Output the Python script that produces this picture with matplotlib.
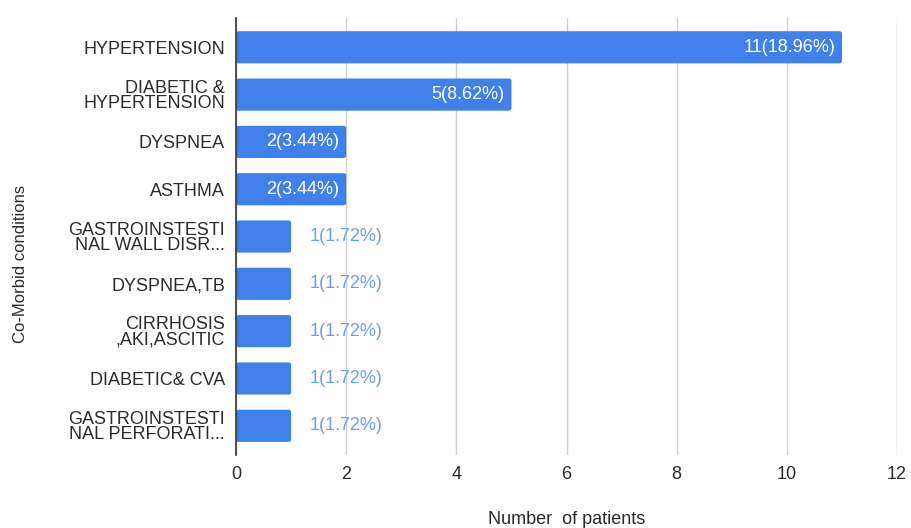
import matplotlib
matplotlib.use('Agg')
import matplotlib.pyplot as plt
from matplotlib.patches import FancyBboxPatch

# 데이터
conditions = [
    'HYPERTENSION',
    'DIABETIC &\nHYPERTENSION',
    'DYSPNEA',
    'ASTHMA',
    'GASTROINSTESTI\nNAL WALL DISR...',
    'DYSPNEA,TB',
    'CIRRHOSIS\n,AKI,ASCITIC',
    'DIABETIC& CVA',
    'GASTROINSTESTI\nNAL PERFORATI...',
]
patients = [11, 5, 2, 2, 1, 1, 1, 1, 1]
value_labels = ['11(18.96%)', '5(8.62%)', '2(3.44%)', '2(3.44%)',
                '1(1.72%)', '1(1.72%)', '1(1.72%)', '1(1.72%)', '1(1.72%)']
x_ticks = [0, 2, 4, 6, 8, 10, 12]

plt.rcParams['font.family'] = ['Liberation Sans', 'DejaVu Sans']

bar_color = '#3f80ea'
text_color = '#2b2b2b'

fig = plt.figure(figsize=(9.12, 5.28), dpi=100)
ax = fig.add_axes([0.2588, 0.138, 0.7248, 0.828])

y_pos = list(range(len(conditions)))
bars = ax.barh(y_pos, patients, height=0.68, color=bar_color, zorder=3)

# 막대 끝을 살짝 둥글게
for b in bars:
    b.set_visible(False)
    r = FancyBboxPatch((b.get_x(), b.get_y()), b.get_width(), b.get_height(),
                       boxstyle='round,pad=0,rounding_size=0.05',
                       mutation_aspect=1 / 0.55 * 0.1 * 5,
                       facecolor=bar_color, edgecolor='none', zorder=3)
    ax.add_patch(r)

for y, v, lab in zip(y_pos, patients, value_labels):
    if v >= 2:
        ax.annotate(lab, (v, y), xytext=(-5, 0), textcoords='offset points',
                    ha='right', va='center', color='white', fontsize=13, zorder=4)
    else:
        ax.annotate(lab, (v, y), xytext=(13, 0), textcoords='offset points',
                    ha='left', va='center', color='#6d9ee6', fontsize=13, zorder=4)

ax.set_xlim(0, 12)
ax.set_ylim(8.62, -0.62)
ax.set_xticks(x_ticks)
ax.set_xticklabels([str(t) for t in x_ticks], fontsize=13, color=text_color)
ax.set_yticks(y_pos)
ax.set_yticklabels(conditions, fontsize=13, color=text_color, linespacing=0.88)
ax.tick_params(axis='both', length=0)
ax.tick_params(axis='x', pad=8)
ax.tick_params(axis='y', pad=8)

ax.grid(axis='x', color='#d0d0d0', linewidth=1, zorder=0)
for side in ['top', 'right', 'bottom']:
    ax.spines[side].set_visible(False)
ax.spines['left'].set_color('#333333')
ax.spines['left'].set_linewidth(1.2)
ax.spines['left'].set_zorder(5)

ax.set_xlabel('Number  of patients', fontsize=13, color=text_color, labelpad=20)
fig.text(0.022, 0.50, 'Co-Morbid conditions', rotation=90, ha='center', va='center',
         fontsize=12, color=text_color)

fig.savefig('out.png', dpi=100)
